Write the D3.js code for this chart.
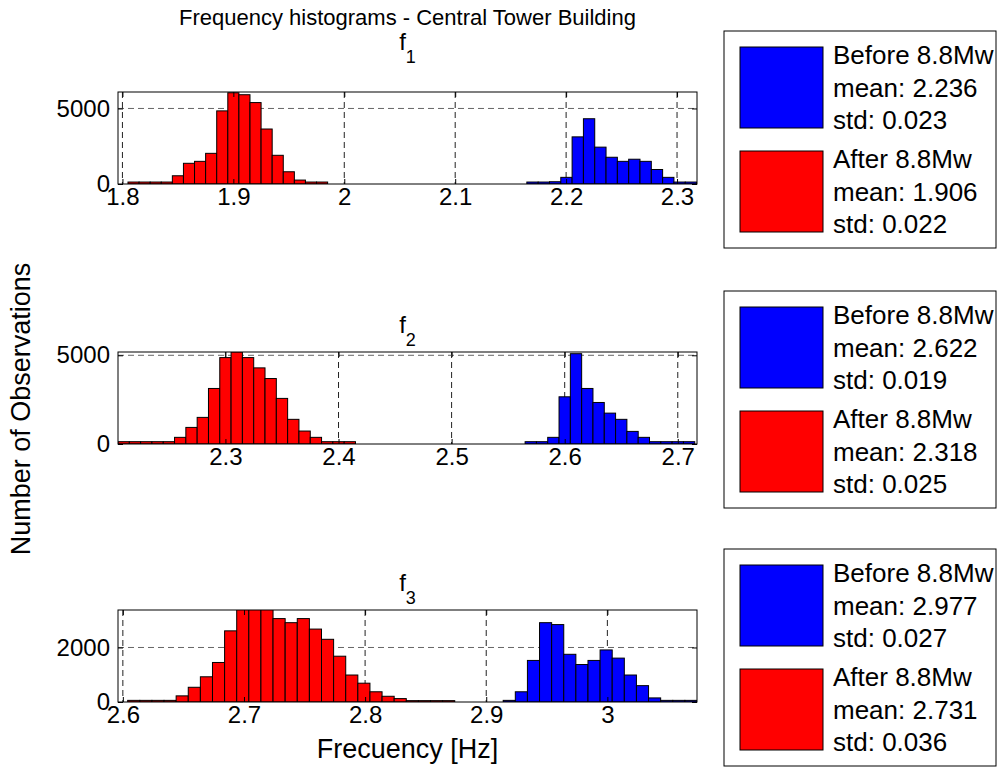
<!DOCTYPE html>
<html>
<head>
<meta charset="utf-8">
<script src="https://cdn.jsdelivr.net/npm/d3@7"></script>
<style>
  body { margin: 0; background: #fff; }
  text { font-family: "Liberation Sans", Arial, sans-serif; fill: #000; }
  .bar { stroke: #000; stroke-width: 1; }
  .grid { stroke-dasharray: 6,4; stroke-width: 1; }
</style>
</head>
<body>
<div id="chart"></div>
<script>
var w = 1003, h = 773;

// histogram counts (one bin = binWidth Hz, first bin starts at *Start)
var f1After = [130,130,130,130,545,1370,1500,2030,4840,6040,5910,5390,3640,1900,810,260,130,130];
var f1Before = [130,130,150,440,3120,4320,2440,1770,1500,1640,1500,960,440,130,130];
var f2After = [130,130,130,130,130,375,935,1500,3130,4870,5190,4870,4290,3690,2570,1390,730,375,130,130,130];
var f2Before = [130,130,375,2660,5090,3130,2340,1740,1390,710,375,130,130,130,130];
var f3After = [60,60,60,60,225,540,925,1450,2610,3450,3500,3450,3060,2910,3060,2675,2300,1680,990,690,375,210,125,50,50,50,50];
var f3Before = [60,375,1525,2910,2840,1750,1375,1525,1910,1610,990,600,150,60,60,60];

var afterStart = [1.805, 2.205, 2.604];
var beforeStart = [2.1646, 2.565, 2.914];
var afterWidth = [0.01, 0.01, 0.01];
var beforeWidth = [0.0102, 0.01, 0.01];

var xLimits = [[1.796, 2.318], [2.205, 2.717], [2.596, 3.074]];
var yMax = [6090, 5185, 3375];
var xTicks = [[1.8, 1.9, 2, 2.1, 2.2, 2.3], [2.3, 2.4, 2.5, 2.6, 2.7], [2.6, 2.7, 2.8, 2.9, 3]];
var yTicks = [[0, 5000], [0, 5000], [0, 2000]];

var subscripts = ["1", "2", "3"];
var beforeMean = ["2.236", "2.622", "2.977"];
var beforeStd = ["0.023", "0.019", "0.027"];
var afterMean = ["1.906", "2.318", "2.731"];
var afterStd = ["0.022", "0.025", "0.036"];

var mainTitle = "Frequency histograms - Central Tower Building";
var yLabel = "Number of Observations";
var xLabel = "Frecuency [Hz]";

var panels = [
  { after: f1After, before: f1Before },
  { after: f2After, before: f2Before },
  { after: f3After, before: f3Before }
];

var plotLeft = 118, plotRight = 697, plotH = 92;
var plotTops = [92, 352, 610];
var titleOffsets = [42, 19, 19];

var svg = d3.select("#chart").append("svg").attr("width", w).attr("height", h);

function bins(counts, start, width) {
  return counts.map(function (c, i) {
    return { x0: start + i * width, x1: start + (i + 1) * width, n: c };
  });
}

function drawPanel(p, i) {
  var top = plotTops[i];
  var x = d3.scaleLinear().domain(xLimits[i]).range([plotLeft, plotRight]);
  var y = d3.scaleLinear().domain([0, yMax[i]]).range([top + plotH, top]);

  var g = svg.append("g");

  g.append("clipPath").attr("id", "clip" + i)
    .append("rect").attr("x", plotLeft).attr("y", top)
    .attr("width", plotRight - plotLeft).attr("height", plotH);

  // dashed grid
  g.selectAll(".vgrid").data(xTicks[i]).enter().append("line")
    .attr("class", "grid").attr("stroke", "#222")
    .attr("x1", function (d) { return x(d); }).attr("x2", function (d) { return x(d); })
    .attr("y1", top).attr("y2", top + plotH);
  g.selectAll(".hgrid").data(yTicks[i].slice(1)).enter().append("line")
    .attr("class", "grid").attr("stroke", "#666")
    .attr("x1", plotLeft).attr("x2", plotRight)
    .attr("y1", function (d) { return y(d); }).attr("y2", function (d) { return y(d); });

  var bars = g.append("g").attr("clip-path", "url(#clip" + i + ")");
  bars.selectAll(".after").data(bins(p.after, afterStart[i], afterWidth[i])).enter().append("rect")
    .attr("class", "bar").attr("fill", "#ff0000")
    .attr("x", function (d) { return x(d.x0); })
    .attr("width", function (d) { return x(d.x1) - x(d.x0); })
    .attr("y", function (d) { return y(d.n); })
    .attr("height", function (d) { return y(0) - y(d.n); });
  bars.selectAll(".before").data(bins(p.before, beforeStart[i], beforeWidth[i])).enter().append("rect")
    .attr("class", "bar").attr("fill", "#0000ff")
    .attr("x", function (d) { return x(d.x0); })
    .attr("width", function (d) { return x(d.x1) - x(d.x0); })
    .attr("y", function (d) { return y(d.n); })
    .attr("height", function (d) { return y(0) - y(d.n); });

  // axes, matlab style: ticks inside on all sides
  var fmt = d3.format("");
  var xb = d3.axisBottom(x).tickValues(xTicks[i]).tickFormat(fmt).tickSizeInner(-5).tickSizeOuter(0).tickPadding(4);
  var xt = d3.axisTop(x).tickValues(xTicks[i]).tickSizeInner(-5).tickSizeOuter(0).tickFormat("");
  var yl = d3.axisLeft(y).tickValues(yTicks[i]).tickFormat(fmt).tickSizeInner(-5).tickSizeOuter(0).tickPadding(8);
  var yr = d3.axisRight(y).tickValues(yTicks[i]).tickSizeInner(-5).tickSizeOuter(0).tickFormat("");

  var axes = [
    g.append("g").attr("transform", "translate(0," + (top + plotH) + ")").call(xb),
    g.append("g").attr("transform", "translate(0," + top + ")").call(xt),
    g.append("g").attr("transform", "translate(" + plotLeft + ",0)").call(yl),
    g.append("g").attr("transform", "translate(" + plotRight + ",0)").call(yr)
  ];
  axes.forEach(function (a) {
    a.attr("font-family", null).attr("font-size", null);
    a.select(".domain").remove();
    a.selectAll("line").attr("stroke", "#000");
    a.selectAll("text").style("font-size", "24px").attr("fill", "#000");
  });

  g.append("rect").attr("x", plotLeft).attr("y", top)
    .attr("width", plotRight - plotLeft).attr("height", plotH)
    .attr("fill", "none").attr("stroke", "#000").attr("stroke-width", 1);

  // f_n title
  var t = g.append("text").attr("x", (plotLeft + plotRight) / 2).attr("y", top - titleOffsets[i])
    .attr("text-anchor", "middle").style("font-size", "24px");
  t.append("tspan").text("f");
  t.append("tspan").attr("dy", 13).style("font-size", "18px").text(subscripts[i]);

  drawLegend(i, top - 61);
}

function drawLegend(i, top) {
  var lg = svg.append("g").attr("transform", "translate(724," + top + ")");
  lg.append("rect").attr("width", 272).attr("height", 217)
    .attr("fill", "#fff").attr("stroke", "#000").attr("stroke-width", 1);

  var entries = [
    { color: "#0000ff", lines: ["Before 8.8Mw", "mean: " + beforeMean[i], "std: " + beforeStd[i]] },
    { color: "#ff0000", lines: ["After 8.8Mw", "mean: " + afterMean[i], "std: " + afterStd[i]] }
  ];
  entries.forEach(function (e, k) {
    var y0 = 16 + k * 104;
    lg.append("rect").attr("x", 16).attr("y", y0).attr("width", 83).attr("height", 81)
      .attr("fill", e.color).attr("stroke", "#000").attr("stroke-width", 1);
    e.lines.forEach(function (s, j) {
      lg.append("text").attr("x", 109).attr("y", y0 + 17 + j * 32.5)
        .style("font-size", "26px").text(s);
    });
  });
}

panels.forEach(drawPanel);

svg.append("text").attr("x", (plotLeft + plotRight) / 2).attr("y", 25)
  .attr("text-anchor", "middle").style("font-size", "22px").text(mainTitle);

svg.append("text").attr("transform", "translate(30,409) rotate(-90)")
  .attr("text-anchor", "middle").style("font-size", "27px").text(yLabel);

svg.append("text").attr("x", (plotLeft + plotRight) / 2).attr("y", 758)
  .attr("text-anchor", "middle").style("font-size", "27px").text(xLabel);
</script>
</body>
</html>
